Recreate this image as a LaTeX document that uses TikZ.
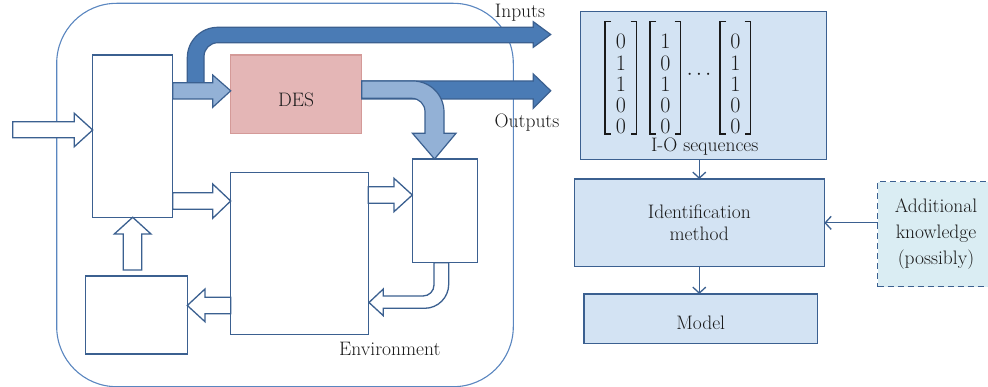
\documentclass[tikz,border=0pt]{standalone}
\usetikzlibrary{arrows.meta}
\definecolor{bord}{HTML}{3B6090}
\definecolor{outerc}{HTML}{5A86C0}
\definecolor{darkfill}{HTML}{4A7BB5}
\definecolor{lightfill}{HTML}{93B1D6}
\definecolor{desfill}{HTML}{E4B6B6}
\definecolor{desbord}{HTML}{D49A98}
\definecolor{rfill}{HTML}{D3E3F3}
\definecolor{afill}{HTML}{DAEDF3}
\definecolor{txtc}{HTML}{1A1A1A}
\tikzset{
  box/.style={draw=bord, line width=1.3pt, fill=white, inner sep=0pt, outer sep=0pt},
  rbox/.style={draw=bord, line width=1.3pt, fill=rfill, inner sep=0pt, outer sep=0pt, text=txtc,
     font=\fontsize{19.5}{22.7}\selectfont, align=center},
  hollow/.style={draw=bord, line width=1.3pt, fill=white, line join=miter},
  darkarr/.style={draw=bord, line width=1.2pt, fill=darkfill, line join=miter},
  lightarr/.style={draw=bord, line width=1.2pt, fill=lightfill, line join=miter},
  txt/.style={text=txtc, font=\fontsize{19.5}{22.7}\selectfont, inner sep=0pt},
  digits/.style={text=txtc, font=\fontsize{22}{21.1}\selectfont, inner sep=0pt, align=center},
  brk/.style={draw=txtc, line width=1.3pt},
  conn/.style={draw=bord, line width=1.3pt, -{Straight Barb[length=6pt,width=13pt]}},
}
\begin{document}
\begin{tikzpicture}[x=1pt,y=-1pt]
\clip (0,0) rectangle (988,387);
\fill[white] (0,0) rectangle (988,387);
% environment frame
\node[draw=outerc, line width=1.1pt, rounded corners=60pt, minimum width=456.6pt, minimum height=383.4pt, inner sep=0pt, outer sep=0pt] (env) at (285,195) {};
% boxes
\node[box, minimum width=80pt, minimum height=162.3pt] (A) at (132.7,136.15) {};
\node[box, draw=desbord, fill=desfill, minimum width=131pt, minimum height=78.3pt] (des) at (296.2,94.15) {};
\node[box, minimum width=137.6pt, minimum height=162pt] (mid) at (299.5,253.3) {};
\node[box, minimum width=65.4pt, minimum height=103.7pt] (small) at (445,210.85) {};
\node[box, minimum width=101.6pt, minimum height=78pt] (bl) at (136.5,315) {};
% hollow block arrows
\draw[hollow] (12.7,121.7) -- (74.3,121.7) -- (74.3,113.3) -- (92.7,130) -- (74.3,146.7) -- (74.3,137.7) -- (12.7,137.7) -- cycle;
\draw[hollow] (172.7,192.7) -- (212.7,192.7) -- (212.7,184) -- (230.7,201) -- (212.7,218.3) -- (212.7,209.3) -- (172.7,209.3) -- cycle;
\draw[hollow] (368.3,186.7) -- (394,186.7) -- (394,178.3) -- (412.3,195) -- (394,211.7) -- (394,203.3) -- (368.3,203.3) -- cycle;
\draw[hollow] (123.3,270) -- (123.3,234) -- (114.3,234) -- (132.7,217.3) -- (151,234) -- (141.7,234) -- (141.7,270) -- cycle;
\draw[hollow] (230.7,297.3) -- (205,297.3) -- (205,289) -- (187.3,305.5) -- (205,321.7) -- (205,313.7) -- (230.7,313.7) -- cycle;
\draw[hollow] (434,262.7) -- (434,285) .. controls (434,291.07) and (429.08,296) .. (423,296) -- (383.3,296) -- (383.3,289) -- (369,302.5) -- (383.3,315.7) -- (383.3,308.3) -- (424.7,308.3) .. controls (437.95,308.3) and (448.7,297.55) .. (448.7,284.3) -- (448.7,262.7) -- cycle;
% dark arrows (Outputs, Inputs)
\draw[darkarr] (361.7,81) -- (533.3,81) -- (533.3,74) -- (550.7,90.7) -- (533.3,108.3) -- (533.3,99) -- (361.7,99) -- cycle;
\draw[darkarr] (187.3,85) -- (187.3,57.8) .. controls (187.3,40.96) and (200.96,27.3) .. (217.8,27.3) -- (533.3,27.3) -- (533.3,21.7) -- (550.7,34.5) -- (533.3,47.3) -- (533.3,42.7) -- (217.8,42.7) .. controls (210.18,42.7) and (204,48.88) .. (204,56.5) -- (204,85) -- cycle;
% light arrows
\draw[lightarr] (361.7,81) -- (413,81) .. controls (430.12,81) and (444,94.88) .. (444,112) -- (444,133.3) -- (456,133.3) -- (434.5,159) -- (412.5,133.3) -- (425,133.3) -- (425,111.6) .. controls (425,104.25) and (419.05,98.3) .. (411.7,98.3) -- (361.7,98.3) -- cycle;
\draw[lightarr] (172.7,82.7) -- (212.7,82.7) -- (212.7,75) -- (230.7,90.8) -- (212.7,107.3) -- (212.7,99) -- (172.7,99) -- cycle;
% labels left
\node[txt, anchor=base] (destxt) at (296,106.7) {DES};
\node[txt, anchor=base] (intxt) at (520,17.3) {Inputs};
\node[txt, anchor=base] (outtxt) at (527,127.7) {Outputs};
\node[txt, anchor=base] (envtxt) at (389.8,355.7) {Environment};
% right side
\node[rbox, minimum width=246pt, minimum height=147.6pt] (io) at (703.7,85.5) {};
\node[rbox, minimum width=250pt, minimum height=87.7pt] (ident) at (699.3,222.85) {Identification\\method};
\node[rbox, minimum width=233.7pt, minimum height=49.3pt] (model) at (700.85,318.65) {};
\node[txt, anchor=base] (modeltxt) at (700.7,329.3) {Model};
\node[rbox, fill=afill, dashed, dash pattern=on 6pt off 4pt, minimum width=116.6pt, minimum height=105pt,
      font=\fontsize{19.5}{25.85}\selectfont] (addk) at (936,234.2) {Additional\\knowledge\\(possibly)};
\node[txt, anchor=base] (iotxt) at (704.7,151.7) {I-O sequences};
% matrices
\node[digits] (m1) at (620.8,84.05) {0\\1\\1\\0\\0};
\node[digits] (m2) at (665.3,84.05) {1\\0\\1\\0\\0};
\node[digits] (m3) at (735.3,84.05) {0\\1\\1\\0\\0};
\node[text=txtc, inner sep=0pt, font=\fontsize{20}{24}\selectfont] (dots) at (699,75) {$\cdots$};
\draw[brk] (611,21.7) -- (605,21.7) -- (605,134) -- (611,134);
\draw[brk] (630.7,21.7) -- (636.7,21.7) -- (636.7,134) -- (630.7,134);
\draw[brk] (656,21.7) -- (650,21.7) -- (650,134) -- (656,134);
\draw[brk] (674.7,21.7) -- (680.7,21.7) -- (680.7,134) -- (674.7,134);
\draw[brk] (726,21.7) -- (720,21.7) -- (720,134) -- (726,134);
\draw[brk] (744.7,21.7) -- (750.7,21.7) -- (750.7,134) -- (744.7,134);
% connectors
\draw[conn] (ident.north |- io.south) -- (ident.north);
\draw[conn] (ident.south) -- (ident.south |- model.north);
\draw[conn] (addk.west |- ident.east) -- (ident.east);
\end{tikzpicture}
\end{document}
